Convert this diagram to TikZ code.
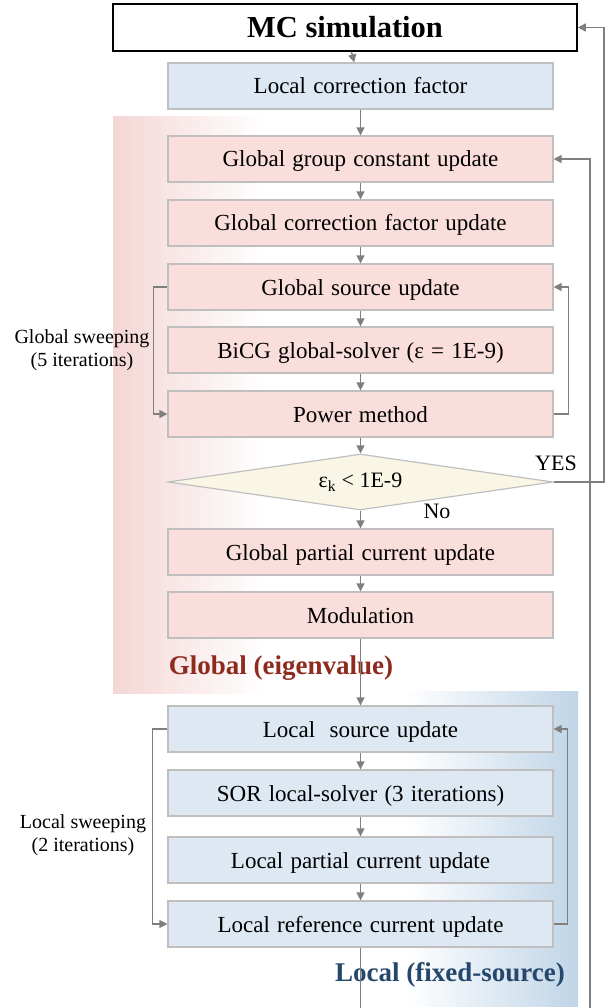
\documentclass[tikz,border=0pt]{standalone}
\usepackage{fontspec}
\setmainfont{Liberation Serif}
\newfontfamily\boxfont{Liberation Serif}[WordSpace=1.25]
\usetikzlibrary{arrows.meta,shapes.geometric}
\definecolor{pinkfill}{HTML}{F9DEDC}
\definecolor{bluefill}{HTML}{DDE8F2}
\definecolor{creamfill}{HTML}{FAF6E6}
\definecolor{boxline}{HTML}{BFBFBF}
\definecolor{arrgray}{HTML}{7F7F7F}
\definecolor{pinkedge}{HTML}{F4D6D5}
\definecolor{blueedge}{HTML}{C0D5E7}
\definecolor{titlered}{HTML}{8E2A1E}
\definecolor{titleblue}{HTML}{24476B}
\begin{document}
\begin{tikzpicture}[x=1pt,y=-1pt,
  box/.style={draw=boxline,line width=1.2pt,minimum width=385pt,minimum height=46pt,inner sep=0pt,
    text height=18pt,text depth=2pt,font=\boxfont\fontsize{23}{27}\selectfont},
  gbox/.style={box,fill=pinkfill},
  lbox/.style={box,fill=bluefill},
  arr/.style={draw=arrgray,line width=1.4pt,-{Triangle[length=8pt,width=8pt]}},
  ln/.style={draw=arrgray,line width=1.4pt},
  side/.style={align=center,font=\fontsize{20}{23}\selectfont},
  regtitle/.style={font=\bfseries\fontsize{27}{30}\selectfont}]
\useasboundingbox (0,0) rectangle (608,1008);
% background regions
\shade[left color=pinkedge,right color=white] (113,117) rectangle (262,693);
\shade[left color=white,right color=blueedge] (405,691) rectangle (578,1006);
% nodes
\node[draw=black,line width=1.5pt,fill=white,minimum width=464pt,minimum height=47pt,inner sep=0pt,
  font=\bfseries\fontsize{30.5}{34}\selectfont] (mc) at (345,27.5) {MC simulation};
\node[lbox] (lcf) at (360.5,86) {Local correction factor};
\node[gbox] (ggc) at (360.5,159) {Global group constant update};
\node[gbox] (gcf) at (360.5,223) {Global correction factor update};
\node[gbox] (gsu) at (360.5,287) {Global source update};
\node[gbox] (bicg) at (360.5,350) {BiCG global-solver (ε = 1E-9)};
\node[gbox] (pm) at (360.5,414) {Power method};
\node[diamond,draw=boxline,line width=1.2pt,fill=creamfill,minimum width=385pt,minimum height=56pt,
  inner sep=0pt,aspect=6.9,font=\fontsize{22}{26}\selectfont] (dia) at (360.5,482) {ε\textsubscript{k} < 1E-9};
\node[gbox] (gpc) at (360.5,552) {Global partial current update};
\node[gbox] (mod) at (360.5,615) {Modulation};
\node[lbox] (lsu) at (360.5,729) {Local\ \ source update};
\node[lbox] (sor) at (360.5,793) {SOR local-solver (3 iterations)};
\node[lbox] (lpc) at (360.5,860) {Local partial current update};
\node[lbox] (lrc) at (360.5,924) {Local reference current update};
% labels
\node[side] (gsw) at (82,350) {Global sweeping\\(5 iterations)};
\node[side] (lsw) at (83,835) {Local sweeping\\(2 iterations)};
\node[font=\fontsize{22}{26}\selectfont] (yes) at (556,463) {YES};
\node[font=\fontsize{22}{26}\selectfont] (no) at (437,511) {No};
\node[regtitle,text=titlered] (gt) at (281,668) {Global (eigenvalue)};
\node[regtitle,text=titleblue] (lt) at (450,975) {Local (fixed-source)};
% coordinates
\coordinate (yr) at (604,27.5);
\coordinate (rbot) at (590,1008);
\coordinate (cbot) at (360.5,1008);
% connectors
\draw[arr] (mc) -- (lcf);
\draw[arr] (lcf) -- (ggc);
\draw[arr] (ggc) -- (gcf);
\draw[arr] (gcf) -- (gsu);
\draw[arr] (gsu) -- (bicg);
\draw[arr] (bicg) -- (pm);
\draw[arr] (pm) -- (dia);
\draw[arr] (dia) -- (gpc);
\draw[arr] (gpc) -- (mod);
\draw[arr] (mod) -- (lsu);
\draw[arr] (lsu) -- (sor);
\draw[arr] (sor) -- (lpc);
\draw[arr] (lpc) -- (lrc);
\draw[ln] (lrc) -- (cbot);
\draw[arr] (gsu.west) -- ++(-14,0) |- (pm.west);
\draw[arr] (pm.east) -- ++(15,0) |- (gsu.east);
\draw[arr] (lsu.west) -- ++(-15,0) |- (lrc.west);
\draw[arr] (lrc.east) -- ++(14,0) |- (lsu.east);
\draw[arr] (dia.east) -| (yr) -- (mc.east);
\draw[arr] (rbot) |- (ggc.east);
\end{tikzpicture}
\end{document}
